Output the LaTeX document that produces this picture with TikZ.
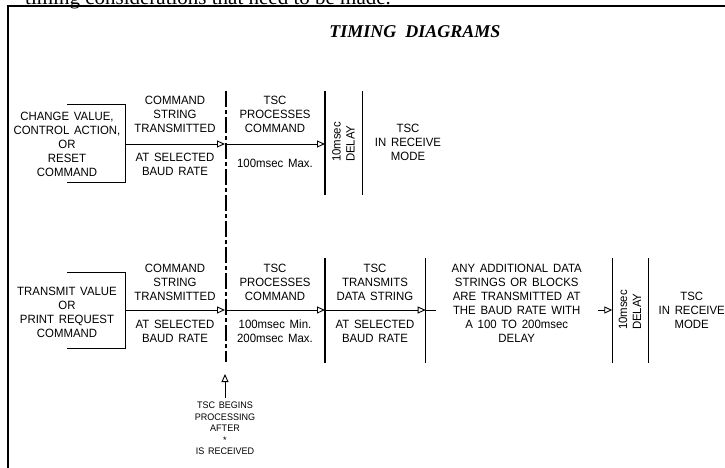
\documentclass[tikz,border=0pt]{standalone}
\usepackage{fontspec}
\newfontfamily\cad{Liberation Sans}[WordSpace=1.5, FakeStretch=0.95]
\newfontfamily\pageserif{Liberation Serif}
\usetikzlibrary{arrows.meta}
\begin{document}
\begin{tikzpicture}[x=1pt,y=-1pt,
  lbl/.style={font=\fontsize{12}{14}\selectfont\cad, align=center, inner sep=0pt},
  small/.style={font=\fontsize{9.5}{11.5}\selectfont\cad, align=center, inner sep=0pt, outer sep=0pt},
  arr/.style={line width=0.9pt, -{Triangle[open,length=8pt,width=7pt,line width=0.9pt]}},
  plain/.style={line width=0.9pt},
  divider/.style={line width=1.1pt},
  centerline/.style={line width=1.1pt, dash pattern=on 16pt off 3pt on 4pt off 3pt}]
\useasboundingbox (0,0) rectangle (725,468);
\clip (0,0) rectangle (725,468);
\fill[white] (0,0) rectangle (725,468);
% page text cut off at the top
\node[anchor=base west, inner sep=0pt, font=\fontsize{21}{24}\selectfont\pageserif] (pagetxt) at (25,4.5) {timing considerations that need to be made.};
% frame
\draw[line width=1.8pt] (8,480) -- (8,6) -- (740,6);
% title
\node[font=\fontsize{18}{20}\selectfont\pageserif\bfseries\itshape] (title) at (415,32) {TIMING\ \ DIAGRAMS};

% ---------- row 1 ----------
\node[lbl] (l1) at (67,144) {CHANGE VALUE,\\CONTROL ACTION,\\OR\\RESET\\COMMAND};
\draw[plain] (67,104.5) -- (125,104.5) -- (125,182) -- (67,182);
\coordinate (s1) at (125,144);
\coordinate (a1) at (225,144);
\coordinate (e1) at (325,144);
\draw[arr] (s1) -- (a1);
\draw[arr] (a1) -- (e1);
\node[lbl] (c1) at (175,114.5) {COMMAND\\STRING\\TRANSMITTED};
\node[lbl] (c1b) at (175,164) {AT SELECTED\\BAUD RATE};
\node[lbl] (p1) at (275,114.5) {TSC\\PROCESSES\\COMMAND};
\node[lbl] (p1b) at (275,163.5) {100msec Max.};
\draw[divider] (325,91) -- (325,195);
\node[lbl, rotate=90, align=left] (d1) at (343.5,142) {10msec\\DELAY};
\draw[divider] (362.5,91) -- (362.5,195);
\node[lbl] (r1) at (408,142) {TSC\\IN RECEIVE\\MODE};

% dashed centre line
\draw[centerline] (226,91) -- (226,362);

% ---------- row 2 ----------
\node[lbl] (l2) at (67,312) {TRANSMIT VALUE\\OR\\PRINT REQUEST\\COMMAND};
\draw[plain] (67,272.3) -- (125,272.3) -- (125,348.3) -- (67,348.3);
\coordinate (s2) at (125,310);
\coordinate (a2) at (225,310);
\coordinate (b2) at (325,310);
\coordinate (c2e) at (425.7,310);
\coordinate (c2x) at (436,310);
\coordinate (f2s) at (598,310);
\coordinate (f2) at (612.3,310);
\draw[arr] (s2) -- (a2);
\draw[arr] (a2) -- (b2);
\draw[arr] (b2) -- (c2e);
\draw[plain] (c2e) -- (c2x);
\draw[arr] (f2s) -- (f2);
\node[lbl] (c2) at (175,282) {COMMAND\\STRING\\TRANSMITTED};
\node[lbl] (c2b) at (175,331.5) {AT SELECTED\\BAUD RATE};
\node[lbl] (p2) at (275,282) {TSC\\PROCESSES\\COMMAND};
\node[lbl] (p2b) at (275,331.5) {100msec Min.\\200msec Max.};
\node[lbl] (t2) at (375,282) {TSC\\TRANSMITS\\DATA STRING};
\node[lbl] (t2b) at (375,331.5) {AT SELECTED\\BAUD RATE};
\node[lbl] (any) at (516.7,303.5) {ANY ADDITIONAL DATA\\STRINGS OR BLOCKS\\ARE TRANSMITTED AT\\THE BAUD RATE WITH\\A 100 TO 200msec\\DELAY};
\draw[divider] (325,258) -- (325,362.7);
\draw[divider] (425.7,258) -- (425.7,362.7);
\draw[divider] (612.3,258) -- (612.3,362.7);
\node[lbl, rotate=90, align=left] (d2) at (630,310) {10msec\\DELAY};
\draw[divider] (648.7,258) -- (648.7,362.7);
\node[lbl] (r2) at (691.7,310.5) {TSC\\IN RECEIVE\\MODE};

% ---------- note ----------
\node[small, anchor=north] (note) at (225,402) {TSC BEGINS\\PROCESSING\\AFTER\\*\\IS RECEIVED};
\coordinate (tip) at (225,374);
\draw[arr] ([yshift=4pt]note.north) -- (tip);
\end{tikzpicture}
\end{document}
